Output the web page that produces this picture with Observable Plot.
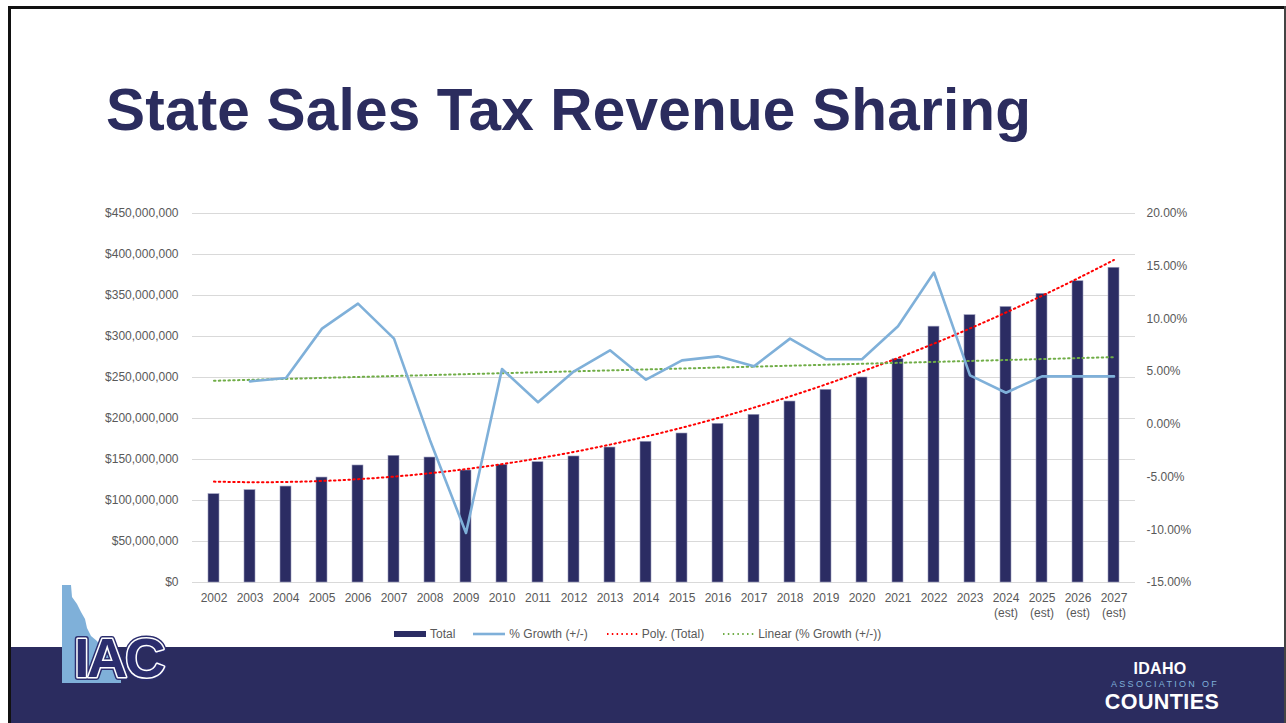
<!DOCTYPE html>
<html><head><meta charset="utf-8">
<script src="https://cdn.jsdelivr.net/npm/d3@7"></script>
<script src="https://cdn.jsdelivr.net/npm/@observablehq/plot@0.6"></script>
<style>
html,body{margin:0;padding:0;background:#fff;}
#slide{position:relative;width:1286px;height:723px;overflow:hidden;font-family:"Liberation Sans",Arial,sans-serif;background:#fff}
#topline{position:absolute;left:8px;top:6px;width:1278px;height:3px;background:#111}
#leftline{position:absolute;left:8px;top:6px;width:3px;height:717px;background:#111}
#rightline{position:absolute;left:1284px;top:6px;width:2px;height:717px;background:#444}
#title{position:absolute;left:106px;top:81px;font-size:58.5px;line-height:58px;font-weight:bold;color:#2B2C5E;white-space:nowrap;letter-spacing:0.2px}
#chart{position:absolute;left:0;top:0}
#legend{position:absolute;left:394px;top:627px;display:flex;align-items:center;font-size:12px;color:#595959;white-space:nowrap}
#legend .item{display:flex;align-items:center;margin-right:18px}
#legend svg{margin-right:4px}
#banner{position:absolute;left:11px;top:647px;width:1273px;height:76px;background:#2B2C5F}
#logos{position:absolute;left:0;top:0}
</style></head><body>
<div id="slide">
  <div id="banner"></div>
  <div id="topline"></div>
  <div id="leftline"></div>
  <div id="rightline"></div>
  <div id="title">State Sales Tax Revenue Sharing</div>
  <div id="chart"></div>
  <div id="legend"></div>
  <svg id="logos" width="1286" height="723">
    <polygon points="62,585 71,585 72,597 77,604 81,612 85,619 87,628 91,636 97,641 103,650 113,655 121,661 121,683 62,683" fill="#7FB0D9"/>
    <text x="74" y="677" font-family="Liberation Sans, Arial, sans-serif" font-weight="bold" font-size="56" letter-spacing="-2.5" fill="#2B2D6E" stroke="#2B2D6E" stroke-width="6" stroke-linejoin="round">IAC</text>
    <text x="74" y="677" font-family="Liberation Sans, Arial, sans-serif" font-weight="bold" font-size="56" letter-spacing="-2.5" fill="#2B2D6E" stroke="#ffffff" stroke-width="3" stroke-linejoin="round">IAC</text>
    <text x="74" y="677" font-family="Liberation Sans, Arial, sans-serif" font-weight="bold" font-size="56" letter-spacing="-2.5" fill="#2B2D6E">IAC</text>
    <text x="1160" y="674" text-anchor="middle" font-family="Liberation Sans, Arial, sans-serif" font-weight="bold" font-size="16" fill="#ffffff" letter-spacing="0.3">IDAHO</text>
    <text x="1165" y="687" text-anchor="middle" font-family="Liberation Sans, Arial, sans-serif" font-size="9" fill="#7FB0D9" letter-spacing="2.3">ASSOCIATION OF</text>
    <text x="1162" y="708.5" text-anchor="middle" font-family="Liberation Sans, Arial, sans-serif" font-weight="bold" font-size="21.5" fill="#ffffff" letter-spacing="0.4">COUNTIES</text>
  </svg>
</div>
<script>
// ---- data ----
const years = ["2002","2003","2004","2005","2006","2007","2008","2009","2010","2011","2012","2013","2014","2015","2016","2017","2018","2019","2020","2021","2022","2023","2024","2025","2026","2027"];
const yearLabels = ["2002","2003","2004","2005","2006","2007","2008","2009","2010","2011","2012","2013","2014","2015","2016","2017","2018","2019","2020","2021","2022","2023","2024\n(est)","2025\n(est)","2026\n(est)","2027\n(est)"];
// Total revenue, millions of dollars
const totalMillions = [107.7,112.6,117,128,142.7,154.5,152.4,136.6,143.5,146.7,153.7,164.6,171.6,181.7,193.5,204.5,220.7,235,250,272.3,312,326,336,352,367.4,383.8];
// % Growth (+/-)
const growthPct = [null,4.08,4.4,9.08,11.45,8.13,-1.5,-10.3,5.25,2.09,5.03,7.02,4.24,6.07,6.45,5.5,8.13,6.17,6.17,9.3,14.4,4.65,3.0,4.55,4.55,4.55];
const leftTicks = [0,50e6,100e6,150e6,200e6,250e6,300e6,350e6,400e6,450e6];
const pctTicks = [-15,-10,-5,0,5,10,15,20];
const legendItems = ["Total","% Growth (+/-)","Poly. (Total)","Linear (% Growth (+/-))"];

// ---- trendlines (least squares, x = 1..n as in Excel) ----
function polyFit2(xs, ys){
  let S=[0,0,0,0,0], T=[0,0,0];
  xs.forEach((x,i)=>{const y=ys[i];for(let k=0;k<5;k++)S[k]+=x**k;for(let k=0;k<3;k++)T[k]+=y*x**k;});
  const A=[[S[0],S[1],S[2],T[0]],[S[1],S[2],S[3],T[1]],[S[2],S[3],S[4],T[2]]];
  for(let c=0;c<3;c++){for(let r=c+1;r<3;r++){const f=A[r][c]/A[c][c];for(let k=c;k<4;k++)A[r][k]-=f*A[c][k];}}
  const b=[0,0,0];
  for(let r=2;r>=0;r--){let s=A[r][3];for(let k=r+1;k<3;k++)s-=A[r][k]*b[k];b[r]=s/A[r][r];}
  return x=>b[0]+b[1]*x+b[2]*x*x;
}
function linFit(xs, ys){
  const mx=d3.mean(xs), my=d3.mean(ys);
  const m=d3.sum(xs,(x,i)=>(x-mx)*(ys[i]-my))/d3.sum(xs,x=>(x-mx)**2);
  return x=>my+m*(x-mx);
}
const totals = totalMillions.map(v=>v*1e6);
const poly = polyFit2(years.map((_,i)=>i+1), totals);
const gIdx = growthPct.map((g,i)=>g==null?null:i+1).filter(v=>v!=null);
const lin = linFit(gIdx, growthPct.filter(g=>g!=null));

const yMax = 450e6;
const pctToY = p => (p + 15) / 35 * yMax;
const yToPct = v => v / yMax * 35 - 15;

const rows = years.map((y,i)=>({
  year:y, total: totals[i],
  growth: growthPct[i]==null ? null : pctToY(growthPct[i]),
  poly: poly(i+1),
  lin: pctToY(lin(i+1))
}));
const labelOf = new Map(years.map((y,i)=>[y, yearLabels[i]]));

const chart = Plot.plot({
  width: 1286, height: 620,
  marginLeft: 192, marginRight: 151, marginTop: 213, marginBottom: 38,
  style: {fontFamily: "Liberation Sans, Arial, sans-serif", fontSize: "12px", color: "#595959", background: "transparent", overflow: "visible"},
  x: {type: "band", domain: years, paddingInner: 0.69, paddingOuter: 0.345},
  y: {domain: [0, yMax]},
  marks: [
    Plot.ruleY(leftTicks, {stroke: "#D9D9D9", strokeWidth: 1.2}),
    Plot.barY(rows, {x: "year", y: "total", fill: "#2B2C63", stroke: "#9C9DBD", strokeWidth: 0.6}),
    Plot.line(rows, {x: "year", y: "poly", stroke: "#FF0000", strokeWidth: 2, strokeDasharray: "1.5 3.3", curve: "natural"}),
    Plot.line(rows, {x: "year", y: "lin", stroke: "#70AD47", strokeWidth: 2, strokeDasharray: "1.5 3.3"}),
    Plot.line(rows, {x: "year", y: "growth", stroke: "#7FB0D9", strokeWidth: 2.6}),
    Plot.axisY(leftTicks, {anchor: "left", tickSize: 0, tickPadding: 14, tickFormat: d3.format("$,"), label: null, fill: "#595959"}),
    Plot.axisY(pctTicks.map(pctToY), {anchor: "right", tickSize: 0, tickPadding: 11, tickFormat: v => yToPct(v).toFixed(2) + "%", label: null, fill: "#595959"}),
    Plot.axisX(years, {anchor: "bottom", tickSize: 0, tickPadding: 9, tickFormat: d => labelOf.get(d), lineHeight: 1.25, label: null, fill: "#595959"})
  ]
});
document.getElementById("chart").appendChild(chart);

// ---- legend ----
const sw = [
  '<svg width="32" height="8"><rect x="0" y="1" width="32" height="6" fill="#2B2C63"/></svg>',
  '<svg width="32" height="8"><line x1="0" y1="4" x2="32" y2="4" stroke="#7FB0D9" stroke-width="2.6"/></svg>',
  '<svg width="32" height="8"><line x1="1" y1="4" x2="32" y2="4" stroke="#FF0000" stroke-width="2" stroke-dasharray="1.5 3.3"/></svg>',
  '<svg width="32" height="8"><line x1="1" y1="4" x2="32" y2="4" stroke="#70AD47" stroke-width="2" stroke-dasharray="1.5 3.3"/></svg>'
];
document.getElementById("legend").innerHTML = legendItems.map((t,i)=>`<div class="item">${sw[i]}<span>${t}</span></div>`).join("");
</script>
</body></html>
